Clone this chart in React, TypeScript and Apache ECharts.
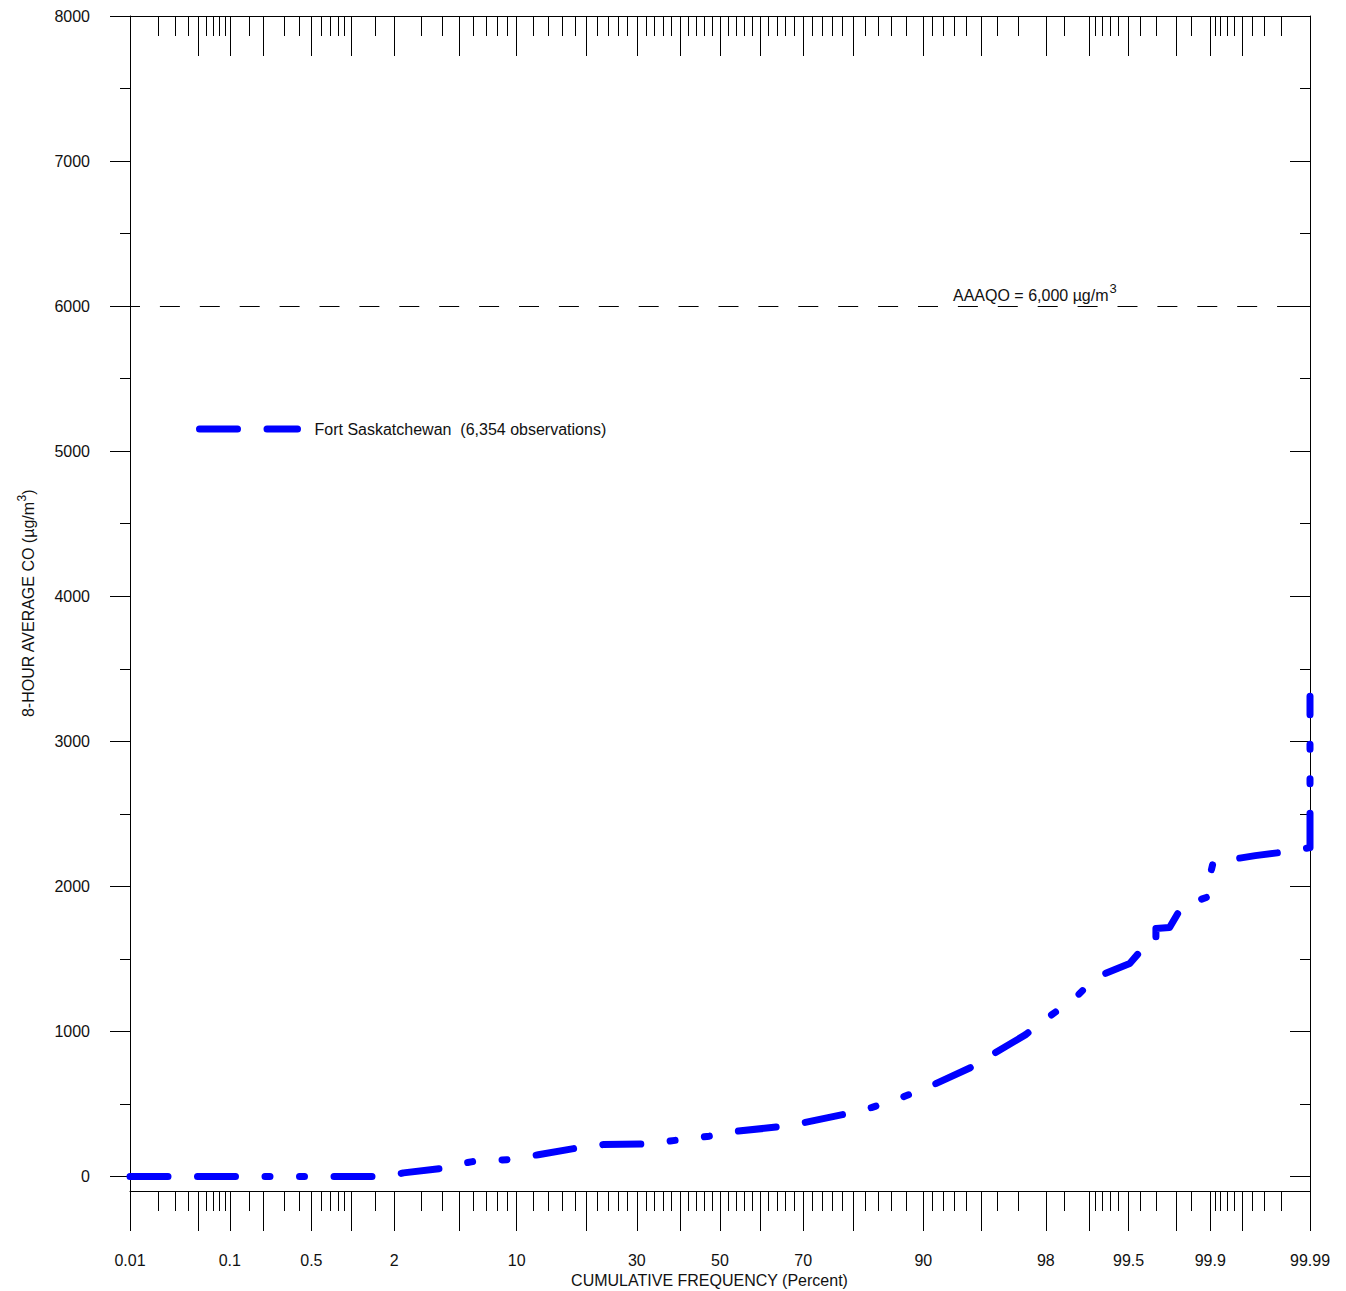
import React, { useEffect, useRef } from "react";
import * as echarts from "echarts";

// ---- data ----
const PERCENT = [
  0.01, 1.6, 2.0, 2.3, 4.3, 5.0, 6.1, 9.2, 12.6, 18.6, 23.1, 32.3, 39.1, 47.3,
  54.3, 64.3, 70.0, 78.1, 83.0, 87.7, 90.9, 94.3, 95.7, 97.3, 98.1, 98.77, 99.1,
  99.51, 99.62, 99.7, 99.7, 99.77, 99.82, 99.896, 99.896, 99.906, 99.963,
  99.979, 99.99, 99.99,
];
const CO_VALUES = [
  0, 0, 10, 25, 60, 85, 105, 117, 150, 198, 220, 224, 250, 278, 312, 342, 370,
  427, 475, 551, 627, 751, 841, 978, 1102, 1240, 1371, 1468, 1578, 1599, 1709,
  1716, 1862, 1929, 2026, 2166, 2212, 2233, 2267, 3310,
];
const SERIES_NAME = "Fort Saskatchewan  (6,354 observations)";
const STANDARD_VALUE = 6000;

const X_MAJOR = [
  0.01, 0.05, 0.1, 0.2, 0.5, 1, 2, 5, 10, 20, 30, 40, 50, 60, 70, 80, 90, 95,
  98, 99, 99.5, 99.8, 99.9, 99.95, 99.99,
];
const X_MINOR = [
  0.02, 0.03, 0.04, 0.06, 0.07, 0.08, 0.09, 0.15, 0.3, 0.4, 0.6, 0.7, 0.8, 0.9,
  1.5, 3, 4, 6, 7, 8, 9, 12, 14, 16, 18, 22, 24, 26, 28, 32, 34, 36, 38, 42, 44,
  46, 48, 52, 54, 56, 58, 62, 64, 66, 68, 72, 74, 76, 78, 82, 84, 86, 88, 91,
  92, 93, 94, 96, 97, 98.5, 99.1, 99.2, 99.3, 99.4, 99.6, 99.7, 99.85, 99.91,
  99.92, 99.93, 99.94, 99.96, 99.97, 99.98,
];
const X_LABELS = [
  "0.01", "0.1", "0.5", "2", "10", "30", "50", "70", "90", "98", "99.5",
  "99.9", "99.99",
];
const Y_MAJOR = [0, 1000, 2000, 3000, 4000, 5000, 6000, 7000, 8000];
const Y_MINOR = [500, 1500, 2500, 3500, 4500, 5500, 6500, 7500];
const Y_MIN = -100;
const Y_MAX = 8000;

// inverse standard normal CDF (Acklam) for the probability scale
function probit(p: number): number {
  const a = [-3.969683028665376e1, 2.209460984245205e2, -2.759285104469687e2,
    1.38357751867269e2, -3.066479806614716e1, 2.506628277459239];
  const b = [-5.447609879822406e1, 1.615858368580409e2, -1.556989798598866e2,
    6.680131188771972e1, -1.328068155288572e1];
  const c = [-7.784894002430293e-3, -3.223964580411365e-1, -2.400758277161838,
    -2.549732539343734, 4.374664141464968, 2.938163982698783];
  const d = [7.784695709041462e-3, 3.224671290700398e-1, 2.445134137142996,
    3.754408661907416];
  const pl = 0.02425;
  let q: number, r: number;
  if (p < pl) {
    q = Math.sqrt(-2 * Math.log(p));
    return (((((c[0] * q + c[1]) * q + c[2]) * q + c[3]) * q + c[4]) * q + c[5]) /
      ((((d[0] * q + d[1]) * q + d[2]) * q + d[3]) * q + 1);
  } else if (p <= 1 - pl) {
    q = p - 0.5;
    r = q * q;
    return (((((a[0] * r + a[1]) * r + a[2]) * r + a[3]) * r + a[4]) * r + a[5]) * q /
      (((((b[0] * r + b[1]) * r + b[2]) * r + b[3]) * r + b[4]) * r + 1);
  }
  q = Math.sqrt(-2 * Math.log(1 - p));
  return -(((((c[0] * q + c[1]) * q + c[2]) * q + c[3]) * q + c[4]) * q + c[5]) /
    ((((d[0] * q + d[1]) * q + d[2]) * q + d[3]) * q + 1);
}

const FONT = "'Liberation Sans', Arial, Helvetica, sans-serif";
const CURVE_DASH = [38, 29.5, 38, 29.5, 5, 29.5, 5, 29.5];

export default function App() {
  const ref = useRef<HTMLDivElement>(null);

  useEffect(() => {
    document.body.style.margin = "0";
    if (!ref.current) return;
    const chart = echarts.init(ref.current, undefined, { renderer: "svg" });

    const zMin = probit(0.0001);
    const zMax = probit(0.9999);
    const zMajor = X_MAJOR.map((p) => probit(p / 100));
    const zMinor = X_MINOR.map((p) => probit(p / 100));
    const zLabels = X_LABELS.map((s) => probit(parseFloat(s) / 100));
    const labelFor = (v: number) => {
      for (let i = 0; i < zLabels.length; i++) {
        if (Math.abs(zLabels[i] - v) < 1e-6) return X_LABELS[i];
      }
      return "";
    };
    const lineData = PERCENT.map((p, i) => [probit(p / 100), CO_VALUES[i]]);

    const axisColor = "#000";
    const gridRect = { left: 130, right: 36, top: 16, bottom: 100, outerBoundsMode: "none" };

    const xBase = (gridIndex: number, position: string) => ({
      type: "value",
      gridIndex,
      position,
      min: zMin,
      max: zMax,
      splitLine: { show: false },
    });
    const yBase = (gridIndex: number, position: string) => ({
      type: "value",
      gridIndex,
      position,
      min: Y_MIN,
      max: Y_MAX,
      splitLine: { show: false },
    });
    const lineOn = { show: true, onZero: false, lineStyle: { color: axisColor, width: 1 } };
    const lineOff = { show: false, onZero: false };

    const option: any = {
      animation: false,
      backgroundColor: "#fff",
      textStyle: { fontFamily: FONT },
      grid: [gridRect, gridRect],
      xAxis: [
        {
          ...xBase(0, "bottom"),
          axisLine: lineOn,
          axisTick: { show: true, customValues: zMajor, length: 40, inside: false, lineStyle: { color: axisColor, width: 1 } },
          axisLabel: {
            show: true,
            customValues: zLabels,
            formatter: (v: number) => labelFor(v),
            margin: 61,
            fontSize: 16,
            color: "#111",
            fontFamily: FONT,
          },
          name: "CUMULATIVE FREQUENCY (Percent)",
          nameLocation: "middle",
          nameGap: 74,
          nameTextStyle: { fontSize: 16, color: "#111", fontFamily: FONT, padding: [0, 21, 0, 0] },
        },
        {
          ...xBase(0, "top"),
          axisLine: lineOn,
          axisTick: { show: true, customValues: zMajor, length: 40, inside: true, lineStyle: { color: axisColor, width: 1 } },
          axisLabel: { show: false },
        },
        {
          ...xBase(1, "bottom"),
          axisLine: lineOff,
          axisTick: { show: true, customValues: zMinor, length: 20, inside: false, lineStyle: { color: axisColor, width: 1 } },
          axisLabel: { show: false },
        },
        {
          ...xBase(1, "top"),
          axisLine: lineOff,
          axisTick: { show: true, customValues: zMinor, length: 20, inside: true, lineStyle: { color: axisColor, width: 1 } },
          axisLabel: { show: false },
        },
      ],
      yAxis: [
        {
          ...yBase(0, "left"),
          axisLine: lineOn,
          axisTick: { show: true, customValues: Y_MAJOR, length: 20, inside: false, lineStyle: { color: axisColor, width: 1 } },
          axisLabel: {
            show: true,
            customValues: Y_MAJOR,
            formatter: (v: number) => String(v),
            margin: 40,
            fontSize: 16,
            color: "#111",
            fontFamily: FONT,
          },
          name: "{a|8-HOUR AVERAGE CO (µg/m}{s|3}{a|)}",
          nameLocation: "middle",
          nameRotate: 90,
          nameGap: 94,
          nameTextStyle: {
            color: "#111",
            fontFamily: FONT,
            rich: {
              a: { fontSize: 16, lineHeight: 20, verticalAlign: "bottom", color: "#111", fontFamily: FONT },
              s: { fontSize: 12, lineHeight: 12, verticalAlign: "top", color: "#111", fontFamily: FONT },
            },
          },
        },
        {
          ...yBase(0, "right"),
          axisLine: lineOn,
          axisTick: { show: true, customValues: Y_MAJOR, length: 20, inside: true, lineStyle: { color: axisColor, width: 1 } },
          axisLabel: { show: false },
        },
        {
          ...yBase(1, "left"),
          axisLine: lineOff,
          axisTick: { show: true, customValues: Y_MINOR, length: 10, inside: false, lineStyle: { color: axisColor, width: 1 } },
          axisLabel: { show: false },
        },
        {
          ...yBase(1, "right"),
          axisLine: lineOff,
          axisTick: { show: true, customValues: Y_MINOR, length: 10, inside: true, lineStyle: { color: axisColor, width: 1 } },
          axisLabel: { show: false },
        },
      ],
      legend: {
        show: true,
        left: 196,
        top: 421,
        padding: 0,
        itemWidth: 98,
        itemHeight: 14,
        data: [SERIES_NAME],
        itemStyle: { opacity: 0, borderWidth: 0 },
        lineStyle: { color: "#0000ff", width: 7, type: CURVE_DASH, cap: "round", opacity: 1 },
        textStyle: { fontSize: 16, color: "#111", fontFamily: FONT, padding: [0, 0, 0, 12] },
      },
      series: [
        {
          name: SERIES_NAME,
          type: "line",
          xAxisIndex: 0,
          yAxisIndex: 0,
          data: lineData,
          showSymbol: false,
          symbol: "none",
          clip: false,
          lineStyle: {
            color: "#0000ff",
            width: 7,
            type: CURVE_DASH,
            cap: "round",
            join: "round",
          },
          itemStyle: { color: "#0000ff" },
          markLine: {
            silent: true,
            symbol: ["none", "none"],
            label: { show: false },
            lineStyle: { color: "#000", width: 1, type: [20, 19.9], dashOffset: 10 },
            data: [{ yAxis: STANDARD_VALUE }],
          },
        },
      ],
      graphic: [
        {
          type: "text",
          left: 953,
          top: 282,
          style: {
            text: "{a|AAAQO = 6,000 µg/m}{s|3}",
            fill: "#111",
            rich: {
              a: { fontSize: 16, lineHeight: 21, verticalAlign: "bottom", fill: "#111", fontFamily: FONT },
              s: { fontSize: 13, lineHeight: 13, verticalAlign: "top", fill: "#111", fontFamily: FONT, padding: [0, 0, 0, 1] },
            },
          },
        },
      ],
    };

    chart.setOption(option);
    return () => chart.dispose();
  }, []);

  return <div ref={ref} style={{ width: 1346, height: 1291 }} />;
}
